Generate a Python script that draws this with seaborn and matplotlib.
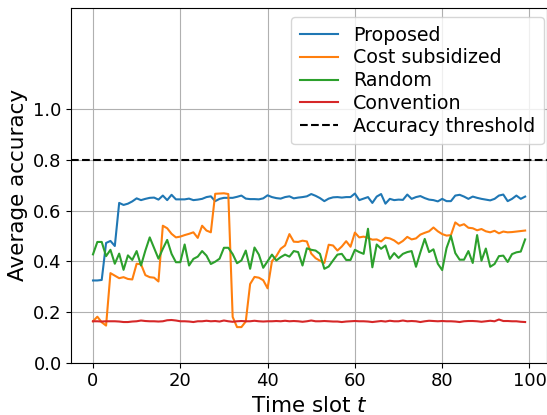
import numpy as np
import pandas as pd
import matplotlib
matplotlib.use("Agg")
import matplotlib.pyplot as plt
import seaborn as sns

time_slots = list(range(100))

proposed = [
    0.324, 0.324, 0.326, 0.472, 0.480, 0.460, 0.630, 0.622, 0.627, 0.636,
    0.648, 0.641, 0.646, 0.650, 0.651, 0.643, 0.659, 0.641, 0.662, 0.644,
    0.644, 0.644, 0.647, 0.641, 0.643, 0.646, 0.653, 0.656, 0.637, 0.646,
    0.650, 0.650, 0.650, 0.654, 0.659, 0.647, 0.645, 0.645, 0.644, 0.648,
    0.660, 0.653, 0.649, 0.647, 0.653, 0.656, 0.648, 0.651, 0.653, 0.656,
    0.665, 0.658, 0.649, 0.637, 0.647, 0.652, 0.653, 0.651, 0.653, 0.653,
    0.667, 0.641, 0.647, 0.653, 0.630, 0.655, 0.665, 0.627, 0.646, 0.641,
    0.643, 0.642, 0.663, 0.646, 0.653, 0.657, 0.649, 0.643, 0.641, 0.636,
    0.646, 0.637, 0.637, 0.659, 0.662, 0.655, 0.646, 0.655, 0.650, 0.646,
    0.643, 0.640, 0.646, 0.659, 0.663, 0.637, 0.646, 0.659, 0.646, 0.655,
]

cost_subsidized = [
    0.163, 0.181, 0.159, 0.146, 0.353, 0.343, 0.333, 0.337, 0.330, 0.328,
    0.390, 0.388, 0.345, 0.337, 0.335, 0.320, 0.540, 0.530, 0.508, 0.494,
    0.497, 0.503, 0.508, 0.514, 0.492, 0.540, 0.521, 0.514, 0.666, 0.667,
    0.668, 0.665, 0.180, 0.140, 0.140, 0.162, 0.310, 0.338, 0.335, 0.325,
    0.293, 0.400, 0.420, 0.449, 0.462, 0.507, 0.477, 0.476, 0.481, 0.478,
    0.430, 0.412, 0.402, 0.393, 0.465, 0.462, 0.442, 0.458, 0.479, 0.457,
    0.513, 0.494, 0.497, 0.492, 0.485, 0.486, 0.478, 0.493, 0.490, 0.482,
    0.469, 0.480, 0.496, 0.486, 0.490, 0.505, 0.512, 0.518, 0.533, 0.518,
    0.507, 0.501, 0.503, 0.553, 0.540, 0.546, 0.532, 0.530, 0.522, 0.527,
    0.518, 0.514, 0.520, 0.510, 0.517, 0.514, 0.515, 0.517, 0.519, 0.521,
]

random_policy = [
    0.427, 0.476, 0.476, 0.420, 0.445, 0.390, 0.430, 0.366, 0.423, 0.405,
    0.440, 0.383, 0.442, 0.494, 0.452, 0.410, 0.449, 0.484, 0.429, 0.396,
    0.396, 0.466, 0.383, 0.409, 0.418, 0.440, 0.422, 0.389, 0.398, 0.410,
    0.453, 0.453, 0.428, 0.392, 0.403, 0.442, 0.370, 0.454, 0.426, 0.374,
    0.400, 0.426, 0.403, 0.416, 0.426, 0.418, 0.440, 0.436, 0.383, 0.451,
    0.445, 0.442, 0.429, 0.370, 0.379, 0.403, 0.426, 0.429, 0.405, 0.405,
    0.445, 0.436, 0.429, 0.528, 0.376, 0.466, 0.449, 0.462, 0.409, 0.432,
    0.413, 0.429, 0.436, 0.440, 0.378, 0.435, 0.488, 0.436, 0.447, 0.390,
    0.365, 0.452, 0.500, 0.432, 0.406, 0.406, 0.440, 0.393, 0.503, 0.402,
    0.450, 0.378, 0.389, 0.420, 0.422, 0.397, 0.428, 0.435, 0.438, 0.486,
]

convention = [
    0.163, 0.163, 0.162, 0.163, 0.163, 0.163, 0.162, 0.160, 0.160, 0.162,
    0.163, 0.166, 0.164, 0.163, 0.163, 0.162, 0.163, 0.167, 0.168, 0.166,
    0.163, 0.163, 0.162, 0.160, 0.163, 0.163, 0.165, 0.163, 0.164, 0.162,
    0.166, 0.163, 0.161, 0.163, 0.164, 0.163, 0.163, 0.165, 0.163, 0.162,
    0.163, 0.163, 0.164, 0.163, 0.165, 0.163, 0.164, 0.163, 0.161, 0.163,
    0.166, 0.163, 0.163, 0.164, 0.163, 0.162, 0.162, 0.160, 0.162, 0.163,
    0.164, 0.163, 0.163, 0.162, 0.160, 0.162, 0.164, 0.162, 0.165, 0.163,
    0.163, 0.166, 0.163, 0.164, 0.163, 0.160, 0.163, 0.165, 0.164, 0.163,
    0.164, 0.163, 0.163, 0.162, 0.160, 0.163, 0.164, 0.164, 0.163, 0.161,
    0.163, 0.165, 0.163, 0.170, 0.164, 0.164, 0.163, 0.163, 0.161, 0.160,
]

series_names = ["Proposed", "Cost subsidized", "Random", "Convention"]
accuracy_threshold = 0.8
y_ticks = [0.0, 0.2, 0.4, 0.6, 0.8, 1.0]
x_ticks = [0, 20, 40, 60, 80, 100]

frames = []
for name, vals in zip(series_names, [proposed, cost_subsidized, random_policy, convention]):
    frames.append(pd.DataFrame({"t": time_slots, "acc": vals, "method": name}))
df = pd.concat(frames, ignore_index=True)

plt.rcParams["font.family"] = ["DejaVu Sans"]
fig = plt.figure(figsize=(5.47, 4.15), dpi=100)
ax = fig.add_axes([0.1305, 0.1263, 0.869, 0.855])

palette = dict(zip(series_names, ["#1f77b4", "#ff7f0e", "#2ca02c", "#d62728"]))
sns.lineplot(data=df, x="t", y="acc", hue="method", hue_order=series_names,
             palette=palette, linewidth=1.5, ax=ax)
ax.axhline(accuracy_threshold, color="black", linestyle="--", linewidth=1.5,
           label="Accuracy threshold")

ax.set_ylim(0, 1.4)
ax.set_yticks(y_ticks)
ax.set_xticks(x_ticks)
ax.tick_params(labelsize=13)
ax.grid(True, color="#b0b0b0", linewidth=0.8)
ax.set_axisbelow(True)
ax.set_xlabel("Time slot $t$", fontsize=15.5)
ax.set_ylabel("Average accuracy", fontsize=15.5)
handles, labels = ax.get_legend_handles_labels()
ax.legend(handles, labels, loc="upper right", fontsize=13.7, framealpha=0.8,
          labelspacing=0.2, borderaxespad=0, borderpad=0.45,
          bbox_to_anchor=(544 / 547, 1 - 17 / 415), bbox_transform=fig.transFigure)

fig.savefig("out.png", dpi=100)
